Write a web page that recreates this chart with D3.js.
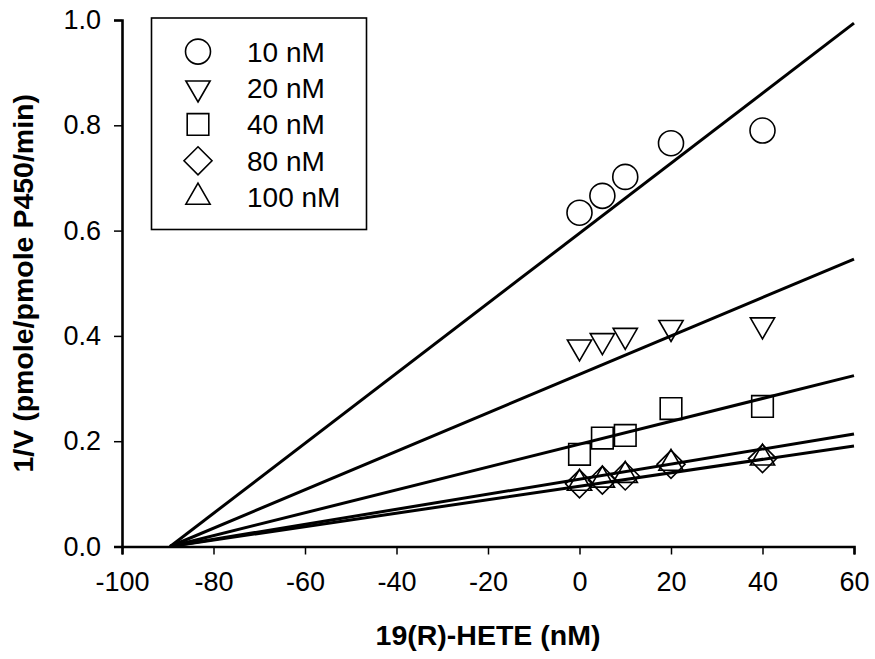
<!DOCTYPE html>
<html lang="en">
    <head>
        <meta charset="utf-8">
        <script src="https://d3js.org/d3.v7.min.js"></script>
        <style>
            body { margin: 0; background: #fff; }
            text { font-family: Arial, "Liberation Sans", sans-serif; fill: #000; }
            .axis path, .axis line { stroke: #000; }
            .fit { fill: none; stroke: #000; stroke-width: 3px; }
            .mark { fill: none; stroke: #000; stroke-width: 1.6px; }
        </style>
        <title>19(R)-HETE</title>
    </head>
    <body>
        <div id="chart"></div>
        <script>
            // concentrations of 19(R)-HETE (x values, nM)
            var hete = [0, 5, 10, 20, 40];

            // substrate series
            var series = ["10 nM", "20 nM", "40 nM", "80 nM", "100 nM"];
            var shapes = ["circle", "triDown", "square", "diamond", "triUp"];

            // 1/V values
            var v10  = [0.634, 0.666, 0.702, 0.766, 0.790];
            var v20  = [0.379, 0.391, 0.401, 0.416, 0.421];
            var v40  = [0.175, 0.206, 0.211, 0.262, 0.266];
            var v80  = [0.119, 0.126, 0.134, 0.156, 0.167];
            var v100 = [0.120, 0.126, 0.135, 0.158, 0.168];
            var values = [v10, v20, v40, v80, v100];

            // fitted lines (1/V = slope*x + intercept)
            var fitSlope     = [0.00665, 0.003652, 0.002171, 0.001429, 0.001278];
            var fitIntercept = [0.595, 0.3269, 0.1943, 0.1279, 0.1144];

            var xTicks = [-100, -80, -60, -40, -20, 0, 20, 40, 60];
            var yTicks = [0, 0.2, 0.4, 0.6, 0.8, 1.0];

            var W = 875, H = 659;
            var margin = {top: 20, right: 21, bottom: 112.5, left: 122};

            var svg = d3.select("#chart")
                .append("svg")
                    .attr("width", W)
                    .attr("height", H);

            var x = d3.scaleLinear()
                .domain([-100, 60])
                .range([margin.left, W - margin.right]);

            var y = d3.scaleLinear()
                .domain([0, 1])
                .range([H - margin.bottom, margin.top]);

            // axes
            var xAxis = svg.append("g")
                .attr("class", "axis")
                .attr("transform", "translate(0," + y(0) + ")")
                .call(d3.axisBottom(x).tickValues(xTicks)
                    .tickFormat(function(d) { return String(d); })
                    .tickSizeOuter(0).tickSize(8).tickPadding(17));
            xAxis.select(".domain").attr("stroke-width", 2.6);
            xAxis.selectAll(".tick line").attr("stroke-width", 1.5);
            xAxis.selectAll("text").attr("font-size", 27).attr("font-family", "Arial, 'Liberation Sans', sans-serif");

            var yAxis = svg.append("g")
                .attr("class", "axis")
                .attr("transform", "translate(" + x(-100) + ",0)")
                .call(d3.axisLeft(y).tickValues(yTicks).tickFormat(d3.format(".1f")).tickSizeOuter(0).tickSize(8).tickPadding(13));
            yAxis.select(".domain").attr("stroke-width", 2.6);
            yAxis.selectAll(".tick line").attr("stroke-width", 1.5);
            yAxis.selectAll("text").attr("font-size", 27).attr("font-family", "Arial, 'Liberation Sans', sans-serif");

            // axis titles
            svg.append("text")
                .attr("x", (x(-100) + x(60)) / 2)
                .attr("y", 645)
                .attr("text-anchor", "middle")
                .attr("font-size", 28.5)
                .attr("font-weight", "bold")
                .text("19(R)-HETE (nM)");

            svg.append("text")
                .attr("transform", "translate(33," + (y(0) + y(1)) / 2 + ") rotate(-90)")
                .attr("text-anchor", "middle")
                .attr("font-size", 28.5)
                .attr("font-weight", "bold")
                .text("1/V (pmole/pmole P450/min)");

            // fit lines, from x-intercept to right edge
            var line = d3.line()
                .x(function(d) { return x(d[0]); })
                .y(function(d) { return y(d[1]); });

            series.forEach(function(s, i) {
                var x0 = -fitIntercept[i] / fitSlope[i];
                svg.append("path")
                    .datum([[x0, 0], [60, fitSlope[i] * 60 + fitIntercept[i]]])
                    .attr("class", "fit")
                    .attr("d", line);
            });

            // marker shapes
            function shapePath(kind) {
                var r = 14;
                if (kind === "circle") return d3.symbol().type(d3.symbolCircle).size(Math.PI * 12.5 * 12.5)();
                if (kind === "square") return "M-10.8,-10.8H10.8V10.8H-10.8Z";
                if (kind === "diamond") return "M0,-14L14,0L0,14L-14,0Z";
                var h = r * Math.sqrt(3) / 2;
                if (kind === "triUp") return "M0," + (-r) + "L" + h + "," + (r / 2) + "L" + (-h) + "," + (r / 2) + "Z";
                return "M0," + r + "L" + h + "," + (-r / 2) + "L" + (-h) + "," + (-r / 2) + "Z";
            }

            series.forEach(function(s, i) {
                svg.append("g")
                    .selectAll("path")
                    .data(values[i])
                    .enter()
                    .append("path")
                        .attr("class", "mark")
                        .attr("d", shapePath(shapes[i]))
                        .attr("transform", function(d, j) {
                            return "translate(" + x(hete[j]) + "," + y(d) + ")";
                        });
            });

            // legend
            var legend = svg.append("g");
            legend.append("rect")
                .attr("x", 151.5)
                .attr("y", 18)
                .attr("width", 215)
                .attr("height", 211.5)
                .attr("fill", "#fff")
                .attr("stroke", "#000")
                .attr("stroke-width", 1.6);

            series.forEach(function(s, i) {
                var cy = 51.6 + i * 36.4;
                legend.append("path")
                    .attr("class", "mark")
                    .attr("d", shapePath(shapes[i]))
                    .attr("transform", "translate(198," + cy + ")");
                legend.append("text")
                    .attr("x", 247)
                    .attr("y", cy + 10)
                    .attr("font-size", 28)
                    .text(s);
            });
        </script>
    </body>
</html>
